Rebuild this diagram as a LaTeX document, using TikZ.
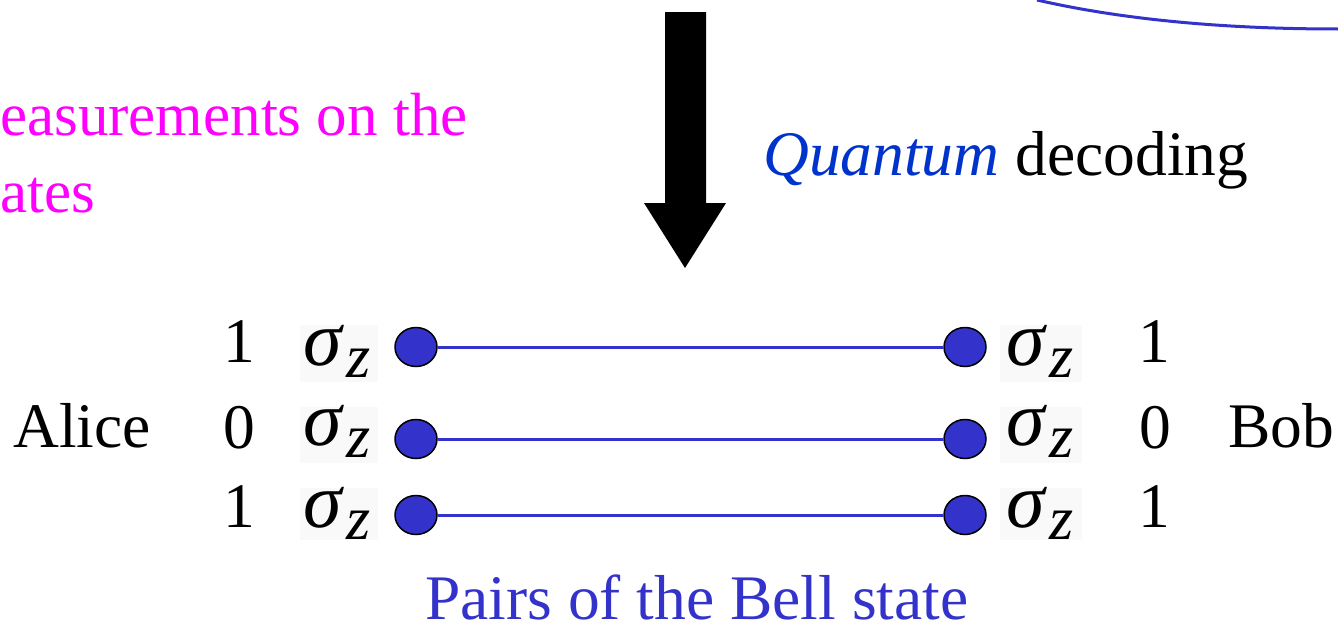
\documentclass[tikz,border=0pt]{standalone}
\usepackage{fontspec}
\setmainfont{Liberation Serif}
\usetikzlibrary{shapes.geometric}
\definecolor{qblue}{HTML}{3333CC}
\definecolor{qdeep}{HTML}{0033CC}
\definecolor{qmag}{HTML}{FF00FF}
\definecolor{sigbg}{HTML}{F9F9F9}
\newcommand{\bigfont}{\fontsize{63.5}{77}\selectfont}
\newcommand{\magfont}{\fontsize{61}{77}\selectfont}
\newcommand{\sigz}{{\fontsize{78}{78}\selectfont\itshape σ}\kern5pt\raisebox{-12pt}{\fontsize{62}{62}\selectfont\itshape z}}
\begin{document}
\begin{tikzpicture}[x=1pt,y=-1pt,
  txt/.style={inner sep=0pt,font=\bigfont},
  qubit/.style={ellipse,draw=black,line width=1.5pt,fill=qblue,minimum width=42pt,minimum height=39pt,inner sep=0pt},
  bond/.style={draw=qblue,line width=3pt},
  sig/.style={inner sep=0pt,anchor=base west}]
\useasboundingbox (0,0) rectangle (1338,629);
\clip (0,0) rectangle (1338,629);
% top-right curve
\coordinate (c0) at (1037,0);
\coordinate (c1) at (1338,29);
\draw[qblue,line width=3pt] (c0) .. controls (1120,19) and (1220,29) .. (c1);
% magenta text (as cut at the left edge)
\node[inner sep=0pt,font=\magfont,text=qmag,anchor=base west] (m1) at (0,135) {easurements on the};
\node[inner sep=0pt,font=\magfont,text=qmag,anchor=base west] (m2) at (0,212) {ates};
% big arrow
\fill[black] (665,12) -- (706,12) -- (706,203) -- (726,203) -- (685,268) -- (644,203) -- (665,203) -- cycle;
% quantum decoding
\node[txt,anchor=base west] (qd) at (763,175) {\textcolor{qdeep}{\itshape Quantum} decoding};
% sigma backgrounds
\fill[sigbg] (300,325) rectangle (378,382);
\fill[sigbg] (300,407) rectangle (378,463);
\fill[sigbg] (300,488) rectangle (378,540);
\fill[sigbg] (1000,325) rectangle (1082,382);
\fill[sigbg] (1000,407) rectangle (1082,463);
\fill[sigbg] (1000,488) rectangle (1082,540);
% sigmas
\node[sig] (sl1) at (303,365) {\sigz};
\node[sig] (sl2) at (303,445) {\sigz};
\node[sig] (sl3) at (303,527) {\sigz};
\node[sig] (sr1) at (1006,365) {\sigz};
\node[sig] (sr2) at (1006,445) {\sigz};
\node[sig] (sr3) at (1006,527) {\sigz};
% bonds and qubits
\node[qubit] (a1) at (416,347) {};
\node[qubit] (a2) at (416,439) {};
\node[qubit] (a3) at (416,515) {};
\node[qubit] (b1) at (965,347) {};
\node[qubit] (b2) at (965,439) {};
\node[qubit] (b3) at (965,515) {};
\draw[bond] (a1) -- (b1);
\draw[bond] (a2) -- (b2);
\draw[bond] (a3) -- (b3);
% numbers
\node[txt,anchor=base] (nl1) at (239,362) {1};
\node[txt,anchor=base] (nl2) at (239,448) {0};
\node[txt,anchor=base] (nl3) at (239,527) {1};
\node[txt,anchor=base] (nr1) at (1154,362) {1};
\node[txt,anchor=base] (nr2) at (1155,448) {0};
\node[txt,anchor=base] (nr3) at (1154,527) {1};
% names
\node[txt,anchor=base west] (alice) at (13,447) {Alice};
\node[txt,anchor=base west] (bob) at (1228,447) {Bob};
% caption
\node[txt,text=qblue,anchor=base west] (pairs) at (425,619) {\raisebox{0pt}[\height][0pt]{Pairs of the Bell state}};
\end{tikzpicture}
\end{document}
